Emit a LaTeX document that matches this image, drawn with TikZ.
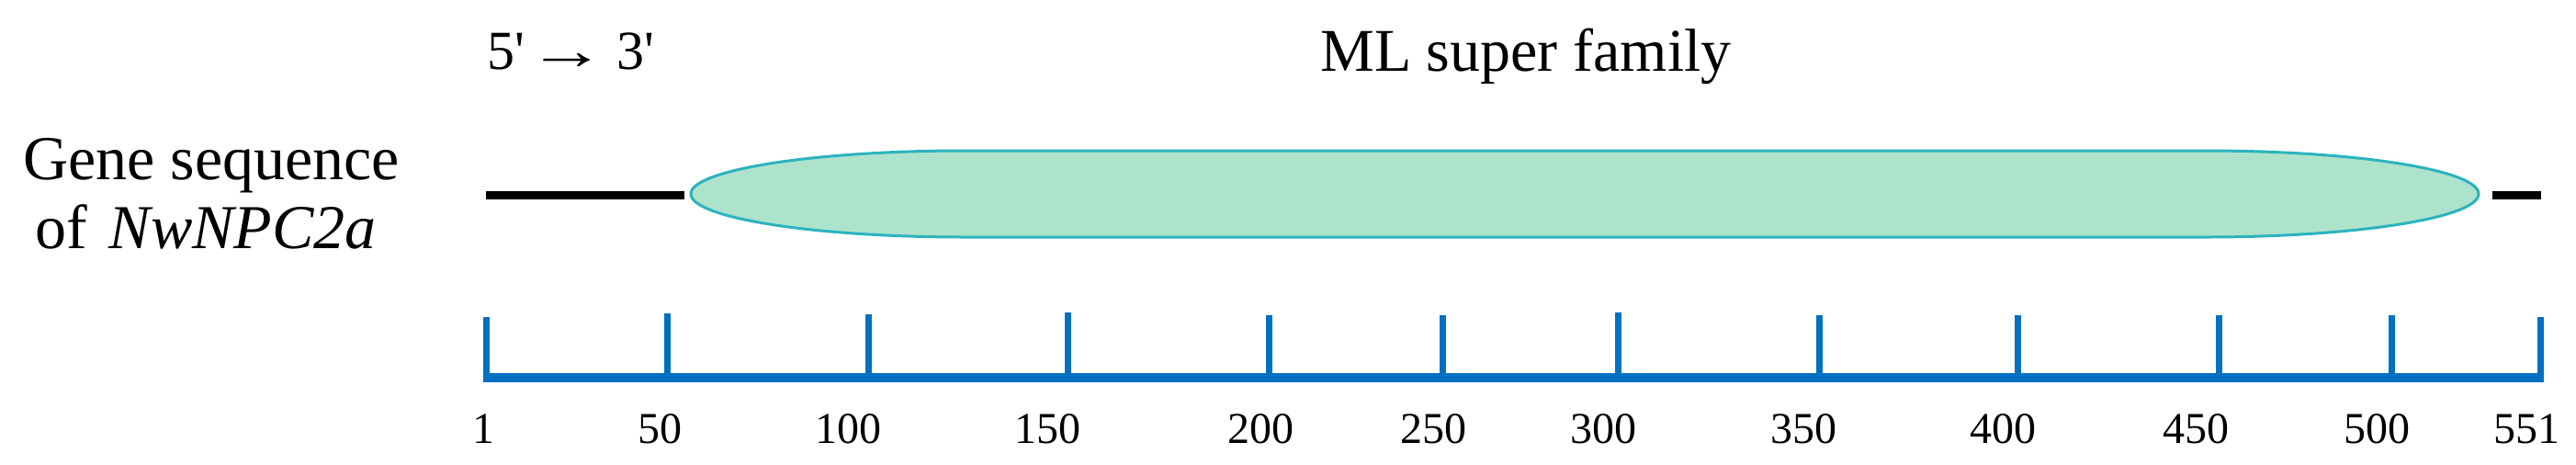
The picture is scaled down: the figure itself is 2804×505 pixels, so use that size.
\documentclass[tikz,border=0pt]{standalone}
\usepackage{fontspec}
\setmainfont{Liberation Serif}
\definecolor{mlfill}{HTML}{AEE3CB}
\definecolor{mledge}{HTML}{2BB3BE}
\definecolor{axisblue}{HTML}{0070C0}
\begin{document}
\begin{tikzpicture}[x=0.5pt,y=-0.5pt,
  lbl/.style={inner sep=0pt, anchor=base west, font=\fontsize{34}{42}\selectfont},
  title/.style={inner sep=0pt, anchor=base west},
  ticklbl/.style={inner sep=0pt, anchor=base, font=\fontsize{24}{28}\selectfont},
  seqline/.style={line width=4.5pt, black},
  axisline/.style={line width=5pt, axisblue},
  tickline/.style={line width=3.5pt, axisblue},
  mlshape/.style={fill=mlfill, draw=mledge, line width=1.5pt}]
\useasboundingbox (0,0) rectangle (2804,505);

% titles
\node[title, font=\fontsize{30}{36}\selectfont] (dir) at (530,75)
  {5\textquotesingle\hspace{0.05em}\scalebox{1.42}[1]{\symbol{"2192}}\hspace{0.2em}3\textquotesingle};
\node[title, font=\fontsize{33}{40}\selectfont] (ml) at (1437,77) {ML super family};

% left label
\node[lbl] (gene1) at (25,195) {Gene sequence};
\node[lbl] (gene2) at (38,270) {of\hspace{0.35em}\textit{NwNPC2a}};

% ML super family domain
\coordinate (mlL) at (752,211);
\coordinate (mlR) at (2698,211);
\draw[mlshape] (1050,164) -- (2400,164)
  .. controls (2564.6,164) and (2698,185) .. (mlR)
  .. controls (2698,237) and (2564.6,258) .. (2400,258)
  -- (1050,258)
  .. controls (885.4,258) and (752,237) .. (mlL)
  .. controls (752,185) and (885.4,164) .. (1050,164) -- cycle;

% black sequence segments
\coordinate (sL1) at (529,212);
\coordinate (sL2) at (745,212);
\coordinate (sR1) at (2713,212);
\coordinate (sR2) at (2766,212);
\draw[seqline] (sL1) -- (sL2);
\draw[seqline] (sR1) -- (sR2);

% axis
\coordinate (axL) at (526,411);
\coordinate (axR) at (2769,411);
\draw[axisline] (axL) -- (axR);
\foreach \tx/\lab/\lx/\ty [count=\i] in {529/1/526/345, 726/50/718/341, 945/100/923/342,
  1162/150/1140/340, 1381/200/1372/343, 1570/250/1560/343, 1761/300/1745/340,
  1980/350/1963/343, 2196/400/2180/343, 2415/450/2390/343, 2603/500/2587/343,
  2765/551/2750/345} {
  \coordinate (t\i) at (\tx,\ty);
  \coordinate (b\i) at (\tx,411);
  \draw[tickline] (b\i) -- (t\i);
  \node[ticklbl] (l\i) at (\lx,482) {\lab};
}
\end{tikzpicture}
\end{document}
